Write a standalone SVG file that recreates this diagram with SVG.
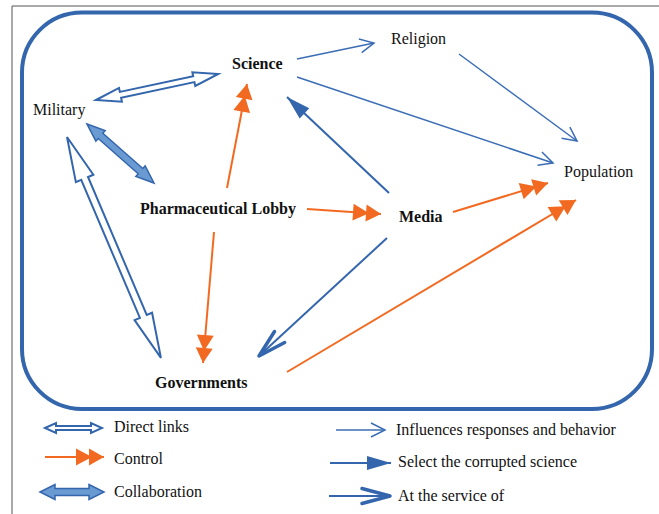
<svg xmlns="http://www.w3.org/2000/svg" width="659" height="514" viewBox="0 0 659 514">
<style>
text{font-family:'Liberation Serif','DejaVu Serif',serif;font-size:16px;fill:#111}
.b{font-weight:bold}
.ctrl{stroke:#f26a21;stroke-width:2;fill:none}
.infl{stroke:#3a6db5;stroke-width:1.5;fill:none}
.sel{stroke:#3466ad;stroke-width:2;fill:none}
.svc{stroke:#3466ad;stroke-width:2;fill:none}
.dl{fill:#fff;stroke:#3466ad;stroke-width:2;stroke-linejoin:miter}
.co{fill:#6a9ad2;stroke:#3466ad;stroke-width:1.5}
</style>
<defs>
<marker id="mCtrl" markerUnits="userSpaceOnUse" markerWidth="30" markerHeight="20" refX="28" refY="9" orient="auto" overflow="visible">
<polygon points="0,0.5 16,9 0,17.5" fill="#f26a21"/>
<polygon points="13,0.5 28,9 13,17.5" fill="#f26a21"/>
</marker>
<marker id="mInfl" markerUnits="userSpaceOnUse" markerWidth="16" markerHeight="16" refX="14" refY="7" orient="auto" overflow="visible">
<path d="M0,0 L14,7 L0,14" fill="none" stroke="#3a6db5" stroke-width="1.5"/>
</marker>
<marker id="mSel" markerUnits="userSpaceOnUse" markerWidth="26" markerHeight="16" refX="24" refY="7" orient="auto" overflow="visible">
<polygon points="0,0 24,7 0,14" fill="#3466ad"/>
</marker>
<marker id="mSvc" markerUnits="userSpaceOnUse" markerWidth="32" markerHeight="18" refX="29" refY="8" orient="auto" overflow="visible">
<path d="M1,0.5 L29,8 L1,15.5" fill="none" stroke="#3466ad" stroke-width="3.5" stroke-linecap="round" stroke-linejoin="round"/>
</marker>
</defs>
<rect x="0" y="0" width="659" height="514" fill="#fff"/>
<path d="M12,514 L12,6 L659,6" fill="none" stroke="#555" stroke-width="1"/>
<rect id="frame" x="22" y="12.5" width="630" height="396.5" rx="60" ry="60" fill="none" stroke="#3466ad" stroke-width="4"/>

<g id="connectors">
<polygon class="dl" transform="translate(96,100) rotate(-12.03)" points="0,0 25,-7 25,-3 100,-3 100,-7 125,0 100,7 100,3 25,3 25,7"/>
<polygon class="dl" transform="translate(67,137) rotate(66.96)" points="0,0 45,-9.5 45,-3.7 195,-3.7 195,-9.5 240,0 195,9.5 195,3.7 45,3.7 45,9.5"/>
<polygon class="co" transform="translate(87,124) rotate(41.37)" points="0,0 18,-7 18,-3.5 71.3,-3.5 71.3,-7 89.3,0 71.3,7 71.3,3.5 18,3.5 18,7"/>
<line class="ctrl" x1="227" y1="188" x2="247" y2="84" marker-end="url(#mCtrl)"/>
<line class="ctrl" x1="214" y1="232" x2="203" y2="363" marker-end="url(#mCtrl)"/>
<line class="ctrl" x1="307" y1="209" x2="381" y2="214" marker-end="url(#mCtrl)"/>
<line class="ctrl" x1="453" y1="212" x2="548" y2="183" marker-end="url(#mCtrl)"/>
<line class="ctrl" x1="287" y1="372" x2="576" y2="200" marker-end="url(#mCtrl)"/>
<line class="sel" x1="389" y1="193" x2="287" y2="97" marker-end="url(#mSel)"/>
<line class="svc" x1="387" y1="238" x2="259" y2="356" marker-end="url(#mSvc)"/>
<line class="infl" x1="297" y1="59" x2="374" y2="43" marker-end="url(#mInfl)"/>
<line class="infl" x1="297" y1="77" x2="553" y2="163" marker-end="url(#mInfl)"/>
<line class="infl" x1="459" y1="54" x2="577" y2="141" marker-end="url(#mInfl)"/>
</g>

<g id="science"><text class="b" x="232" y="69" font-family="'Liberation Serif', serif">Science</text></g>
<g id="military"><text x="33" y="115" font-family="'Liberation Serif', serif">Military</text></g>
<g id="religion"><text x="391" y="44" font-family="'Liberation Serif', serif">Religion</text></g>
<g id="population"><text x="564" y="177" font-family="'Liberation Serif', serif">Population</text></g>
<g id="pharma"><text class="b" x="140" y="214" font-family="'Liberation Serif', serif">Pharmaceutical Lobby</text></g>
<g id="media"><text class="b" x="399" y="222" font-family="'Liberation Serif', serif">Media</text></g>
<g id="governments"><text class="b" x="155" y="388" font-family="'Liberation Serif', serif">Governments</text></g>

<g id="legend" font-family="'Liberation Serif', serif">
<polygon class="dl" transform="translate(45,428)" points="0,0 11,-5 11,-2 46,-2 46,-5 57,0 46,5 46,2 11,2 11,5"/>
<text x="114" y="432">Direct links</text>
<line class="ctrl" x1="45" y1="457" x2="104" y2="457" marker-end="url(#mCtrl)"/>
<text x="114" y="464">Control</text>
<polygon class="co" transform="translate(40,492)" points="0,0 15,-7.5 15,-3.5 49,-3.5 49,-7.5 64,0 49,7.5 49,3.5 15,3.5 15,7.5"/>
<text x="114" y="497">Collaboration</text>
<line class="infl" x1="336" y1="430" x2="385" y2="430" marker-end="url(#mInfl)"/>
<text x="396" y="435">Influences responses and behavior</text>
<line class="sel" x1="330" y1="463" x2="391" y2="463" marker-end="url(#mSel)"/>
<text x="398" y="467">Select the corrupted science</text>
<line class="svc" x1="329" y1="496" x2="390" y2="496" marker-end="url(#mSvc)"/>
<text x="398" y="501">At the service of</text>
</g>
</svg>
